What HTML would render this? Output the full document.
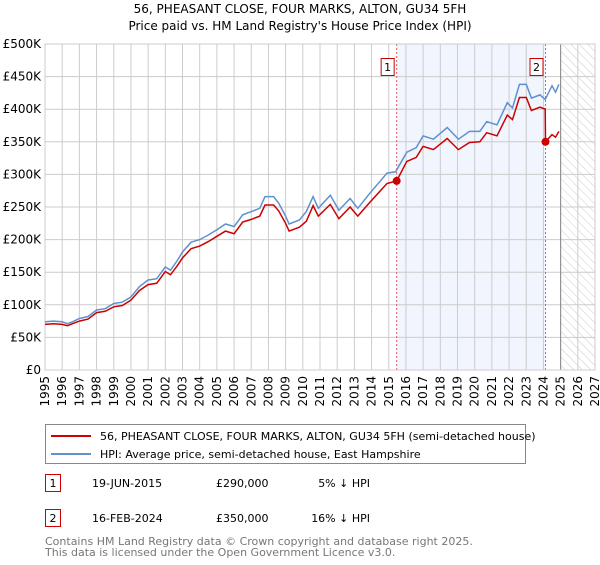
<!DOCTYPE html>
<html><head><meta charset="utf-8"><style>
body{margin:0;background:#fff;font-family:"Liberation Sans","DejaVu Sans",sans-serif;}
svg text{font-family:"DejaVu Sans","Liberation Sans",sans-serif;}
</style></head><body>
<svg id="chart" width="600" height="560" viewBox="0 0 600 560" xmlns="http://www.w3.org/2000/svg">
<defs><pattern id="hatch" width="6" height="6" patternUnits="userSpaceOnUse" patternTransform="rotate(-45)"><line x1="0" y1="0" x2="0" y2="6" stroke="#ccc" stroke-width="1"/></pattern></defs>
<text x="300" y="13" text-anchor="middle" font-size="12">56, PHEASANT CLOSE, FOUR MARKS, ALTON, GU34 5FH</text>
<text x="300" y="30" text-anchor="middle" font-size="12">Price paid vs. HM Land Registry's House Price Index (HPI)</text>
<g id="plot"></g>
<g>
<rect x="45.5" y="424.5" width="480" height="39" fill="#fff" stroke="#888"/>
<line x1="51" y1="436" x2="91" y2="436" stroke="#cc0000" stroke-width="2"/>
<text x="100" y="440" font-size="11">56, PHEASANT CLOSE, FOUR MARKS, ALTON, GU34 5FH (semi-detached house)</text>
<line x1="51" y1="454" x2="91" y2="454" stroke="#6090d0" stroke-width="2"/>
<text x="100" y="458" font-size="11">HPI: Average price, semi-detached house, East Hampshire</text>
</g>
<g>
<rect x="45.5" y="474.5" width="15" height="17" fill="#fff" stroke="#cc0000"/>
<text x="53" y="487" font-size="11" text-anchor="middle">1</text>
<text x="92" y="487" font-size="11">19-JUN-2015</text>
<text x="216" y="487" font-size="11">£290,000</text>
<text x="370" y="487" font-size="11" text-anchor="end">5% ↓ HPI</text>
</g>
<g>
<rect x="45.5" y="509.5" width="15" height="17" fill="#fff" stroke="#cc0000"/>
<text x="53" y="522" font-size="11" text-anchor="middle">2</text>
<text x="92" y="522" font-size="11">16-FEB-2024</text>
<text x="216" y="522" font-size="11">£350,000</text>
<text x="370" y="522" font-size="11" text-anchor="end">16% ↓ HPI</text>
</g>
<text x="45" y="545" font-size="11" fill="#777">Contains HM Land Registry data © Crown copyright and database right 2025.</text>
<text x="45" y="556" font-size="11" fill="#777">This data is licensed under the Open Government Licence v3.0.</text>
</svg>
<script>
const hpiYears=[1995,1995.5,1996,1996.3,1996.6,1997,1997.5,1998,1998.5,1999,1999.5,2000,2000.5,2001,2001.5,2002,2002.3,2002.7,2003,2003.5,2004,2004.5,2005,2005.5,2006,2006.5,2007,2007.5,2007.8,2008.3,2008.6,2009,2009.2,2009.8,2010.2,2010.6,2010.9,2011.6,2012.1,2012.75,2013.2,2013.9,2014.9,2015.4,2016.05,2016.6,2017,2017.6,2018.4,2019.05,2019.7,2020.3,2020.7,2021.3,2021.9,2022.2,2022.6,2023,2023.3,2023.8,2024.1,2024.5,2024.7,2024.9];
const hpiValues=[74000,75000,74000,71000,74000,79000,82000,92000,94000,102000,104000,112000,128000,138000,140000,158000,153000,168000,181000,196000,200000,207000,215000,224000,220000,238000,243000,248000,266000,266000,256000,236000,224000,230000,243000,266000,248000,268000,245000,263000,248000,271000,302000,304000,334000,341000,359000,354000,372000,354000,366000,366000,381000,376000,410000,402000,438000,438000,417000,422000,415000,436000,426000,438000];
const priceYears=[1995,1995.5,1996,1996.3,1996.6,1997,1997.5,1998,1998.5,1999,1999.5,2000,2000.5,2001,2001.5,2002,2002.3,2002.7,2003,2003.5,2004,2004.5,2005,2005.5,2006,2006.5,2007,2007.5,2007.8,2008.3,2008.6,2009,2009.2,2009.8,2010.2,2010.6,2010.9,2011.6,2012.1,2012.75,2013.2,2013.9,2014.9,2015.46,2016.05,2016.6,2017,2017.6,2018.4,2019.05,2019.7,2020.3,2020.7,2021.3,2021.9,2022.2,2022.6,2023,2023.3,2023.8,2024.1,2024.12,2024.5,2024.7,2024.9];
const priceValues=[70000,71000,70000,68000,71000,75000,78000,88000,90000,97000,99000,107000,122000,131000,133000,151000,146000,160000,172000,186000,190000,197000,205000,213000,209000,227000,231000,236000,253000,253000,244000,225000,213000,219000,228000,252000,236000,254000,232000,250000,236000,257000,286000,290000,320000,326000,343000,338000,355000,338000,349000,350000,364000,359000,391000,384000,418000,418000,398000,403000,400000,350000,361000,357000,366000];
const saleYears=[2015.46,2024.12];
const saleValues=[290000,350000];
const yTicks=[0,50000,100000,150000,200000,250000,300000,350000,400000,450000,500000];
const yTickLabels=["£0","£50K","£100K","£150K","£200K","£250K","£300K","£350K","£400K","£450K","£500K"];
const xTicks=[1995,1996,1997,1998,1999,2000,2001,2002,2003,2004,2005,2006,2007,2008,2009,2010,2011,2012,2013,2014,2015,2016,2017,2018,2019,2020,2021,2022,2023,2024,2025,2026,2027];

const NS="http://www.w3.org/2000/svg";
const X0=45,X1=595,Y0=370,Y1=44;
const xs=y=>X0+(y-1995)/(2027-1995)*(X1-X0);
const ys=v=>Y0-v/500000*(Y0-Y1);
const g=document.getElementById('plot');
function el(t,a){const e=document.createElementNS(NS,t);for(const k in a)e.setAttribute(k,a[k]);g.appendChild(e);return e;}
const span=el('rect',{x:xs(saleYears[0]),y:Y1,width:xs(saleYears[1])-xs(saleYears[0]),height:Y0-Y1,fill:'#eef3fc',opacity:0.8});


const fut=el('rect',{x:xs(2025),y:Y1,width:X1-xs(2025),height:Y0-Y1,fill:'url(#hatch)'});


yTicks.forEach((v,i)=>{
 const l=el('line',{x1:X0,x2:X1,y1:ys(v),y2:ys(v),stroke:'#ccc','stroke-width':1});
 
 
 const t=el('text',{x:X0-4,y:ys(v)+4,'text-anchor':'end','font-size':12});
 t.textContent=yTickLabels[i];
 
 
});
xTicks.forEach(yr=>{
 const l=el('line',{x1:xs(yr),x2:xs(yr),y1:Y1,y2:Y0,stroke:'#ccc','stroke-width':1});
 
 
 const t=el('text',{x:0,y:0,'text-anchor':'end','font-size':12,transform:`translate(${xs(yr)+4},${Y0+6}) rotate(-90)`});
 t.textContent=yr;
 
 
});
const nl=el('line',{x1:xs(2025),x2:xs(2025),y1:Y1,y2:Y0,stroke:'#888','stroke-width':1});


saleYears.forEach((yr,i)=>{
 const l=el('line',{x1:xs(yr),x2:xs(yr),y1:Y1,y2:Y0,stroke:'#e06060','stroke-width':1,'stroke-dasharray':'2,2'});
 
 
 const b=el('rect',{x:xs(yr)-15.5,y:58.5,width:13,height:17,fill:'#fff',stroke:'#cc0000'});
 
 
 const t=el('text',{x:xs(yr)-9,y:71,'text-anchor':'middle','font-size':11});
 t.textContent=String(i+1);
 
 
});
const frame=el('rect',{x:X0,y:Y1,width:X1-X0,height:Y0-Y1,fill:'none',stroke:'#ccc'});


const hp=el('path',{d:hpiYears.map((y,i)=>(i?'L':'M')+xs(y).toFixed(1)+','+ys(hpiValues[i]).toFixed(1)).join(''),fill:'none',stroke:'#6090d0','stroke-width':1.5});


const pp=el('path',{d:priceYears.map((y,i)=>(i?'L':'M')+xs(y).toFixed(1)+','+ys(priceValues[i]).toFixed(1)).join(''),fill:'none',stroke:'#cc0000','stroke-width':1.5});


saleYears.forEach((yr,i)=>{
 const c=el('circle',{cx:xs(yr),cy:ys(saleValues[i]),r:4,fill:'#cc0000'});
 
 
});
</script>
</body></html>
